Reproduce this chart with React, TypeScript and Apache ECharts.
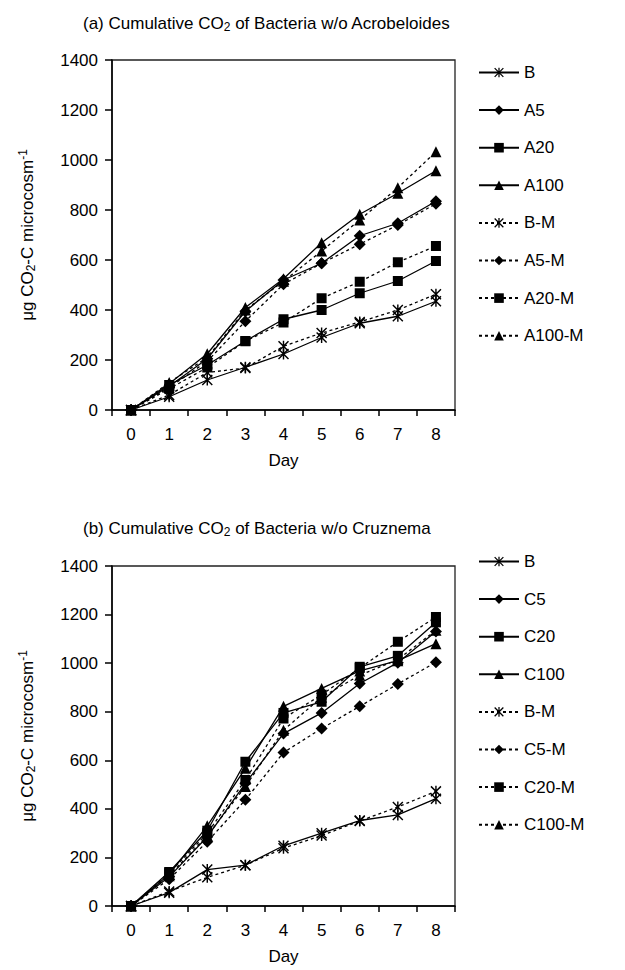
import React, { useEffect, useRef } from 'react';
import * as echarts from 'echarts';

const days = ['0', '1', '2', '3', '4', '5', '6', '7', '8'];

// Panel (a)
const namesA = ['B', 'A5', 'A20', 'A100', 'B-M', 'A5-M', 'A20-M', 'A100-M'];
const aB = [0, 53, 120, 171, 224, 290, 347, 375, 435];
const aA5 = [0, 95, 205, 395, 520, 587, 697, 747, 835];
const aA20 = [0, 100, 180, 276, 363, 400, 467, 516, 596];
const aA100 = [0, 105, 225, 410, 525, 669, 783, 867, 957];
const aBM = [0, 60, 150, 168, 255, 308, 352, 400, 463];
const aA5M = [0, 90, 195, 355, 503, 587, 663, 740, 825];
const aA20M = [0, 85, 170, 275, 350, 447, 513, 591, 656];
const aA100M = [0, 110, 210, 400, 515, 636, 760, 889, 1033];

// Panel (b)
const namesB = ['B', 'C5', 'C20', 'C100', 'B-M', 'C5-M', 'C20-M', 'C100-M'];
const bB = [0, 55, 150, 168, 248, 300, 352, 375, 442];
const bC5 = [0, 120, 285, 505, 710, 795, 916, 1002, 1130];
const bC20 = [0, 140, 310, 594, 795, 841, 985, 1030, 1168];
const bC100 = [0, 130, 330, 567, 822, 896, 968, 1010, 1080];
const bBM = [0, 60, 118, 168, 238, 290, 350, 408, 472];
const bC5M = [0, 110, 265, 437, 632, 731, 822, 914, 1004];
const bC20M = [0, 135, 300, 519, 772, 870, 980, 1088, 1190];
const bC100M = [0, 125, 290, 492, 724, 860, 950, 1015, 1135];

const FONT = 'Liberation Sans, Arial, Helvetica, sans-serif';
const FS = 17;

const STAR =
  'path://M8.7 0L11.3 0L11.3 20L8.7 20Z M1.84 0L20 18.16L18.16 20L0 1.84Z M18.16 0L20 1.84L1.84 20L0 18.16Z';

function markerFor(name: string): { symbol: string; size: number } {
  const base = name.replace('-M', '');
  if (base === 'B') return { symbol: STAR, size: 11 };
  if (/5$/.test(base) && !/0/.test(base)) return { symbol: 'diamond', size: 12 };
  if (/20$/.test(base)) return { symbol: 'rect', size: 10 };
  return { symbol: 'triangle', size: 11 };
}

function buildOption(
  titleText: string,
  names: string[],
  values: number[][],
  titleTop: number,
  gridTop: number,
  gridHeight: number,
  legendTop: number
) {
  return {
    animation: false,
    backgroundColor: '#fff',
    title: {
      text: titleText,
      left: 78,
      top: titleTop,
      textStyle: {
        fontFamily: FONT,
        fontSize: FS,
        fontWeight: 'normal',
        color: '#000',
        lineHeight: 20,
        rich: {
          sub: { fontFamily: FONT, fontSize: 12, color: '#000', verticalAlign: 'bottom', lineHeight: 12 },
        },
      },
    },
    grid: {
      left: 112,
      top: gridTop,
      width: 343,
      height: gridHeight,
      show: true,
      borderColor: '#222',
      borderWidth: 1.3,
      backgroundColor: 'transparent',
    },
    legend: {
      orient: 'vertical',
      left: 473,
      top: legendTop,
      itemWidth: 40,
      itemHeight: 12,
      itemGap: 20.6,
      selectedMode: false,
      data: names,
      textStyle: { fontFamily: FONT, fontSize: FS, color: '#000', lineHeight: 17 },
    },
    xAxis: {
      type: 'category',
      data: days,
      boundaryGap: true,
      name: 'Day',
      nameLocation: 'middle',
      nameGap: 42,
      nameTextStyle: { fontFamily: FONT, fontSize: FS, color: '#000' },
      axisLine: { lineStyle: { color: '#000', width: 1.5 } },
      axisTick: { show: true, length: 6, lineStyle: { color: '#000', width: 1.5 } },
      axisLabel: { fontFamily: FONT, fontSize: FS, color: '#000', margin: 16, interval: 0 },
      splitLine: { show: false },
    },
    yAxis: {
      type: 'value',
      min: 0,
      max: 1400,
      interval: 200,
      name: 'μg CO{sub|2}-C microcosm{sup|-1}',
      nameLocation: 'middle',
      nameGap: 75,
      nameTextStyle: {
        fontFamily: FONT,
        fontSize: FS,
        color: '#000',
        lineHeight: 20,
        rich: {
          sub: { fontFamily: FONT, fontSize: 12, color: '#000', verticalAlign: 'bottom', lineHeight: 12 },
          sup: { fontFamily: FONT, fontSize: 12, color: '#000', verticalAlign: 'top', lineHeight: 12 },
        },
      },
      axisLine: { show: true, lineStyle: { color: '#000', width: 1.5 } },
      axisTick: { show: true, length: 7, lineStyle: { color: '#000', width: 1.5 } },
      axisLabel: {
        fontFamily: FONT,
        fontSize: FS,
        color: '#000',
        margin: 14,
        formatter: (v: number) => String(v),
      },
      splitLine: { show: false },
    },
    series: names.map((name, i) => {
      const m = markerFor(name);
      const dashed = name.endsWith('-M');
      return {
        name,
        type: 'line',
        data: values[i],
        symbol: m.symbol,
        symbolSize: m.size,
        showSymbol: true,
        lineStyle: { color: '#000', width: 1.3, type: dashed ? [3, 3] : 'solid' },
        itemStyle: { color: '#000', borderColor: '#000', borderWidth: 0 },
        emphasis: { disabled: true },
      };
    }),
  };
}

function Panel(props: { option: any; height: number }) {
  const ref = useRef<HTMLDivElement>(null);
  useEffect(() => {
    if (!ref.current) return;
    const chart = echarts.init(ref.current, undefined, { renderer: 'svg' });
    chart.setOption(props.option);
    return () => chart.dispose();
  }, []);
  return <div ref={ref} style={{ width: 625, height: props.height }} />;
}

export default function App() {
  useEffect(() => {
    document.body.style.margin = '0';
  }, []);
  const optA = buildOption(
    '(a) Cumulative CO{sub|2} of Bacteria w/o Acrobeloides',
    namesA,
    [aB, aA5, aA20, aA100, aBM, aA5M, aA20M, aA100M],
    8,
    60,
    350,
    59
  );
  const optB = buildOption(
    '(b) Cumulative CO{sub|2} of Bacteria w/o Cruznema',
    namesB,
    [bB, bC5, bC20, bC100, bBM, bC5M, bC20M, bC100M],
    23,
    76,
    340,
    58
  );
  return (
    <div style={{ width: 625, height: 970, background: '#fff' }}>
      <Panel option={optA} height={490} />
      <Panel option={optB} height={480} />
    </div>
  );
}
